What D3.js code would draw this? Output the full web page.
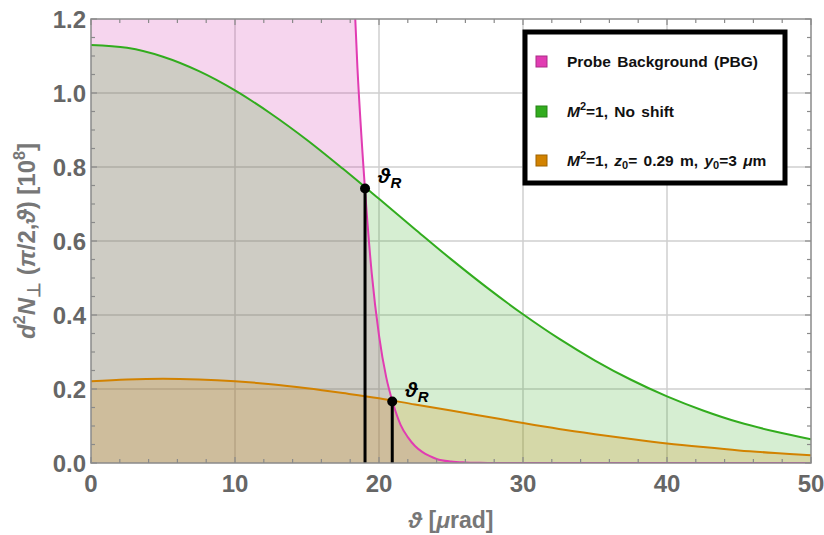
<!DOCTYPE html>
<html>
<head>
<meta charset="utf-8">
<script src="https://cdn.jsdelivr.net/npm/d3@7"></script>
<style>
  html, body { margin: 0; padding: 0; background: #fff; }
  svg { display: block; font-family: "Liberation Sans", Arial, sans-serif; }
</style>
</head>
<body>
<svg id="chart" width="824" height="535"></svg>
<script>
// theta samples (µrad) for the two beam curves
const thetaSamples = [0, 2.5, 5, 7.5, 10, 12.5, 15, 17.5, 20, 22.5, 25, 27.5, 30, 32.5, 35, 37.5, 40, 42.5, 45, 47.5, 50];
// M^2=1, No shift
const noShiftValues = [1.130, 1.122, 1.098, 1.059, 1.007, 0.944, 0.873, 0.795, 0.714, 0.632, 0.551, 0.474, 0.402, 0.336, 0.277, 0.225, 0.180, 0.142, 0.110, 0.085, 0.064];
// M^2=1, z0=0.29 m, y0=3 µm
const shiftedValues = [0.221, 0.226, 0.228, 0.226, 0.221, 0.213, 0.202, 0.189, 0.175, 0.158, 0.142, 0.125, 0.108, 0.092, 0.078, 0.065, 0.053, 0.043, 0.034, 0.027, 0.021];
// Probe background (PBG)
const pbgTheta = [0, 17.5, 18.0, 18.5, 19.0, 19.5, 20.0, 20.5, 21.0, 21.5, 22.0, 22.5, 23.0, 23.5, 24.0, 25.0, 26.0, 27.0, 28.0, 35.0, 50.0];
const pbgValues = [2.12, 2.12, 1.51, 1.07, 0.755, 0.511, 0.345, 0.232, 0.158, 0.103, 0.070, 0.046, 0.030, 0.019, 0.011, 0.004, 0.0015, 0.0005, 0, 0, 0];
// crossing points theta_R
const crossTheta = [19.03, 20.92];
const crossValues = [0.742, 0.166];

const xTicks = [0, 10, 20, 30, 40, 50];
const yTicks = [0, 0.2, 0.4, 0.6, 0.8, 1.0, 1.2];

const colors = { pbg: "rgb(225,60,178)", flat: "rgb(50,172,30)", shift: "rgb(210,130,0)" };
const fills = { pbg: "rgb(210,45,170)", flat: "rgb(50,170,30)", shift: "rgb(210,130,0)" };

const box = { left: 91, right: 811, top: 19, bottom: 463 };
const svg = d3.select("#chart");

const x = d3.scaleLinear().domain([0, 50]).range([box.left, box.right]);
const y = d3.scaleLinear().domain([0, 1.2]).range([box.bottom, box.top]);

svg.append("defs").append("clipPath").attr("id", "plotClip")
  .append("rect").attr("x", box.left).attr("y", box.top).attr("width", box.right - box.left).attr("height", box.bottom - box.top);

// grid
const grid = svg.append("g");
grid.selectAll("line.vx").data(xTicks.slice(1, -1)).enter().append("line")
  .attr("x1", d => x(d)).attr("x2", d => x(d)).attr("y1", box.top).attr("y2", box.bottom)
  .attr("stroke", "#cfcfcf").attr("stroke-width", 1.5);
grid.selectAll("line.hy").data(yTicks.slice(1, -1)).enter().append("line")
  .attr("y1", d => y(d)).attr("y2", d => y(d)).attr("x1", box.left).attr("x2", box.right)
  .attr("stroke", "#cfcfcf").attr("stroke-width", 1.5);

const plot = svg.append("g").attr("clip-path", "url(#plotClip)");

const pbg = pbgTheta.map((t, i) => [t, pbgValues[i]]);
const flat = thetaSamples.map((t, i) => [t, noShiftValues[i]]);
const shifted = thetaSamples.map((t, i) => [t, shiftedValues[i]]);

const mkArea = curve => d3.area().x(d => x(d[0])).y0(y(0)).y1(d => y(d[1])).curve(curve);
const mkLine = curve => d3.line().x(d => x(d[0])).y(d => y(d[1])).curve(curve);
const series = [
  { data: pbg, fill: fills.pbg, stroke: colors.pbg, curve: d3.curveMonotoneX },
  { data: flat, fill: fills.flat, stroke: colors.flat, curve: d3.curveCatmullRom },
  { data: shifted, fill: fills.shift, stroke: colors.shift, curve: d3.curveCatmullRom }
];

series.forEach(s => {
  plot.append("path").attr("d", mkArea(s.curve)(s.data)).attr("fill", s.fill).attr("fill-opacity", 0.2);
});
series.forEach(s => {
  plot.append("path").attr("d", mkLine(s.curve)(s.data)).attr("fill", "none").attr("stroke", s.stroke).attr("stroke-width", 2);
});

// theta_R markers
crossTheta.forEach((t, i) => {
  const v = crossValues[i];
  svg.append("line").attr("x1", x(t)).attr("x2", x(t)).attr("y1", y(0)).attr("y2", y(v))
    .attr("stroke", "#000").attr("stroke-width", 3);
  svg.append("circle").attr("cx", x(t)).attr("cy", y(v)).attr("r", 5).attr("fill", "#000");
  const lab = svg.append("text").attr("x", x(t) + 13).attr("y", y(v) - 5)
    .attr("font-weight", "bold").attr("font-style", "italic").attr("fill", "#000");
  lab.append("tspan").attr("font-size", 21).text("ϑ");
  lab.append("tspan").attr("font-size", 15).attr("dy", 5).text("R");
});

// frame
const frame = svg.append("g");
frame.append("rect").attr("x", box.left).attr("y", box.top).attr("width", box.right - box.left).attr("height", box.bottom - box.top)
  .attr("fill", "none").attr("stroke", "#8a8a8a").attr("stroke-width", 1.5);

const xMinor = d3.range(0, 50.01, 2);
const yMinor = d3.range(0, 1.201, 0.05);
xMinor.forEach(t => {
  const major = Math.abs(t % 10) < 1e-6;
  const len = major ? 6 : 4;
  frame.append("line").attr("x1", x(t)).attr("x2", x(t)).attr("y1", box.bottom).attr("y2", box.bottom - len).attr("stroke", "#8a8a8a").attr("stroke-width", 1.2);
  frame.append("line").attr("x1", x(t)).attr("x2", x(t)).attr("y1", box.top).attr("y2", box.top + len).attr("stroke", "#8a8a8a").attr("stroke-width", 1.2);
});
yMinor.forEach(v => {
  const major = Math.abs(Math.round(v * 100) % 20) < 1e-6;
  const len = major ? 6 : 4;
  frame.append("line").attr("y1", y(v)).attr("y2", y(v)).attr("x1", box.left).attr("x2", box.left + len).attr("stroke", "#8a8a8a").attr("stroke-width", 1.2);
  frame.append("line").attr("y1", y(v)).attr("y2", y(v)).attr("x1", box.right).attr("x2", box.right - len).attr("stroke", "#8a8a8a").attr("stroke-width", 1.2);
});

// tick labels
svg.selectAll("text.xt").data(xTicks).enter().append("text")
  .attr("x", d => x(d)).attr("y", box.bottom + 29).attr("text-anchor", "middle")
  .attr("font-size", 24).attr("font-weight", "bold").attr("fill", "#666").text(d => d);
svg.selectAll("text.yt").data(yTicks).enter().append("text")
  .attr("x", box.left - 5).attr("y", d => y(d) + 8.5).attr("text-anchor", "end")
  .attr("font-size", 24).attr("font-weight", "bold").attr("fill", "#666").text(d => d.toFixed(1));

// axis titles
const xt = svg.append("text").attr("x", (box.left + box.right) / 2).attr("y", 528).attr("text-anchor", "middle")
  .attr("font-size", 23).attr("font-weight", "bold").attr("fill", "#777");
xt.append("tspan").attr("font-style", "italic").text("ϑ");
xt.append("tspan").text(" [");
xt.append("tspan").attr("font-style", "italic").text("μ");
xt.append("tspan").text("rad]");

const yt = svg.append("text").attr("transform", `translate(35,${(box.top + box.bottom) / 2}) rotate(-90)`)
  .attr("text-anchor", "middle").attr("font-size", 24).attr("font-weight", "bold").attr("fill", "#777");
yt.append("tspan").attr("font-style", "italic").text("d");
yt.append("tspan").attr("font-size", 16).attr("dy", -10).text("2");
yt.append("tspan").attr("font-style", "italic").attr("dy", 10).text("N");
yt.append("tspan").attr("font-size", 18).attr("dy", 5).text("⊥");
yt.append("tspan").attr("dy", -5).text(" (");
yt.append("tspan").attr("font-style", "italic").text("π");
yt.append("tspan").text("/2,");
yt.append("tspan").attr("font-style", "italic").text("ϑ");
yt.append("tspan").text(") [10");
yt.append("tspan").attr("font-size", 16).attr("dy", -10).text("8");
yt.append("tspan").attr("dy", 10).text("]");

// legend
const lg = svg.append("g");
lg.append("rect").attr("x", 525).attr("y", 32).attr("width", 260).attr("height", 151)
  .attr("fill", "#fff").attr("stroke", "#000").attr("stroke-width", 5);
const legendRows = [
  { c: colors.pbg, y: 62 },
  { c: colors.flat, y: 112 },
  { c: colors.shift, y: 161 }
];
legendRows.forEach(r => {
  lg.append("rect").attr("x", 536).attr("y", r.y - 6).attr("width", 11).attr("height", 11)
    .attr("fill", r.c).attr("stroke", d3.color(r.c).darker(0.8)).attr("stroke-width", 1);
});
const lt = (yy) => lg.append("text").attr("x", 567).attr("y", yy + 5).attr("font-size", 15.5)
  .attr("font-weight", "bold").attr("fill", "#111").attr("word-spacing", 2);
lt(62).text("Probe Background (PBG)");
const l2 = lt(112);
l2.append("tspan").attr("font-style", "italic").text("M");
l2.append("tspan").attr("font-size", 11).attr("dy", -7).text("2");
l2.append("tspan").attr("dy", 7).text("=1, No shift");
const l3 = lt(161);
l3.append("tspan").attr("font-style", "italic").text("M");
l3.append("tspan").attr("font-size", 11).attr("dy", -7).text("2");
l3.append("tspan").attr("dy", 7).text("=1, ");
l3.append("tspan").attr("font-style", "italic").text("z");
l3.append("tspan").attr("font-size", 11).attr("dy", 3).text("0");
l3.append("tspan").attr("dy", -3).text("= 0.29 m, ");
l3.append("tspan").attr("font-style", "italic").text("y");
l3.append("tspan").attr("font-size", 11).attr("dy", 3).text("0");
l3.append("tspan").attr("dy", -3).text("=3 ");
l3.append("tspan").attr("font-style", "italic").text("μ");
l3.append("tspan").text("m");
</script>
</body>
</html>
